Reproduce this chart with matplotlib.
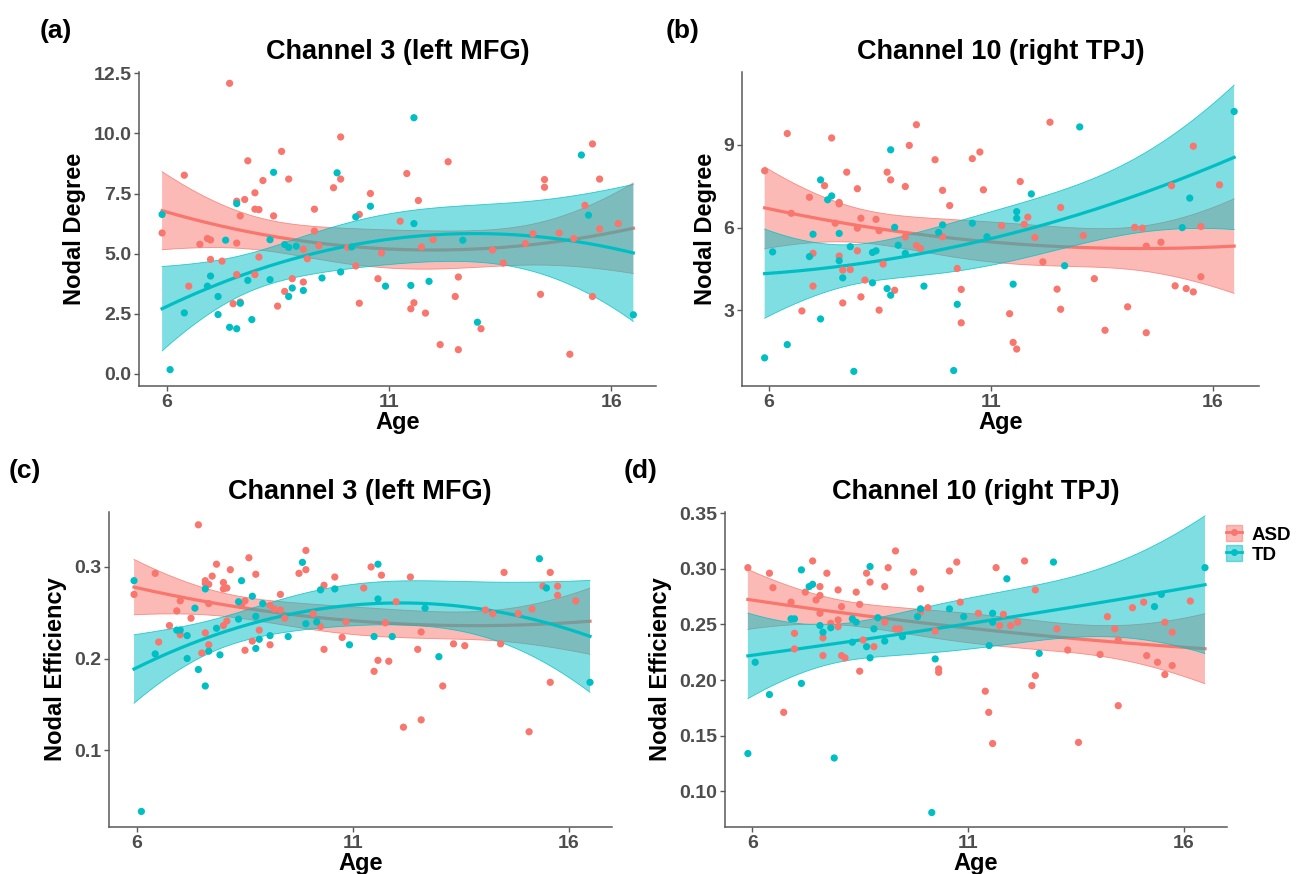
import numpy as np
import matplotlib
matplotlib.use("Agg")
import matplotlib.pyplot as plt
from matplotlib.patches import Patch
from matplotlib.lines import Line2D

plt.rcParams['font.family'] = ['Liberation Sans', 'DejaVu Sans']
plt.rcParams['font.weight'] = 'bold'

# ---- data ----
# (a) nodal degree, channel 3
deg3_asd_age = [5.89, 6.39, 6.49, 6.74, 6.91, 6.98, 6.98, 7.24, 7.41, 7.49, 7.57, 7.57, 7.57, 7.65, 7.65,
                7.75, 7.82, 7.98, 7.98, 7.98, 8.07, 8.07, 8.16, 8.40, 8.49, 8.58, 8.65, 8.74, 8.82, 9.07,
                9.07, 9.16, 9.32, 9.32, 9.42, 9.75, 9.91, 9.91, 10.07, 10.25, 10.33, 10.33, 10.58, 10.75,
                10.83, 11.25, 11.40, 11.49, 11.56, 11.66, 11.73, 11.82, 11.99, 12.15, 12.33, 12.49, 12.56,
                12.56, 13.07, 13.33, 13.57, 14.07, 14.24, 14.41, 14.50, 14.50, 14.83, 15.07, 15.16, 15.41,
                15.58, 15.58, 15.74, 15.74, 16.16]
deg3_asd = [5.86, 8.26, 3.65, 5.39, 5.63, 5.57, 4.76, 4.69, 12.08, 2.92, 7.18, 5.44, 4.13, 6.57, 2.99,
            7.25, 8.86, 7.53, 6.85, 4.13, 6.83, 4.86, 8.04, 6.57, 2.82, 9.25, 3.43, 8.10, 3.96, 3.82,
            5.18, 4.79, 6.85, 5.94, 5.33, 7.74, 9.85, 8.10, 5.26, 4.49, 2.94, 6.63, 7.50, 3.96,
            5.03, 6.35, 8.33, 2.71, 2.96, 7.21, 5.28, 2.53, 5.58, 1.22, 8.82, 3.22, 4.03,
            1.01, 1.88, 5.15, 4.61, 5.42, 5.83, 3.31, 8.08, 7.76, 5.86, 0.82, 5.63, 7.01,
            9.56, 3.22, 6.03, 8.10, 6.25]
deg3_td_age = [5.89, 6.07, 6.39, 6.91, 6.98, 7.15, 7.15, 7.32, 7.41, 7.57, 7.57, 7.65, 7.82, 7.91, 8.32,
               8.32, 8.40, 8.65, 8.74, 8.74, 8.82, 8.91, 9.07, 9.49, 9.83, 9.91, 10.16, 10.25, 10.58,
               10.92, 11.49, 11.56, 11.56, 11.90, 12.66, 12.99, 15.33, 15.49, 16.50]
deg3_td = [6.63, 0.18, 2.54, 3.65, 4.07, 3.22, 2.47, 5.56, 1.94, 1.88, 7.08, 2.94, 3.89, 2.26, 3.92,
           5.58, 8.38, 5.38, 5.26, 3.22, 3.57, 5.31, 3.47, 3.99, 8.36, 4.24, 5.28, 6.53, 6.97,
           3.65, 3.68, 6.25, 10.65, 3.85, 5.56, 2.15, 9.10, 6.60, 2.46]

# (b) nodal degree, channel 10
deg10_asd_age = [5.90, 6.41, 6.50, 6.74, 6.91, 6.99, 6.99, 7.25, 7.41, 7.49, 7.58, 7.58, 7.58, 7.66, 7.66,
                 7.75, 7.83, 7.99, 7.99, 7.99, 8.07, 8.07, 8.16, 8.41, 8.48, 8.48, 8.57, 8.66, 8.74, 8.83,
                 9.07, 9.07, 9.16, 9.32, 9.32, 9.41, 9.74, 9.91, 9.91, 10.07, 10.24, 10.33, 10.33, 10.58,
                 10.75, 10.83, 11.24, 11.42, 11.50, 11.58, 11.66, 11.75, 11.83, 11.99, 12.17, 12.33, 12.49,
                 12.57, 12.57, 13.08, 13.33, 13.57, 14.08, 14.24, 14.41, 14.50, 14.50, 14.83, 15.07, 15.15,
                 15.40, 15.56, 15.56, 15.73, 15.73, 16.15]
deg10_asd = [8.06, 9.41, 6.52, 2.98, 7.10, 5.07, 3.88, 7.52, 9.25, 6.16, 6.91, 6.86, 4.97, 4.46, 3.27,
             8.01, 4.48, 7.41, 5.98, 5.16, 6.34, 3.49, 4.10, 6.30, 5.89, 3.01, 4.68, 8.01, 7.73, 3.73,
             7.49, 5.67, 8.98, 9.73, 5.35, 5.25, 8.46, 7.35, 5.67, 6.80, 4.52, 3.76, 2.55, 8.50,
             8.74, 7.37, 6.07, 2.88, 1.84, 1.60, 7.67, 6.12, 6.38, 5.64, 4.76, 9.82, 3.77,
             6.73, 3.04, 5.71, 4.15, 2.28, 3.13, 6.01, 5.98, 5.33, 2.19, 5.47, 7.52, 3.89,
             3.79, 8.95, 3.67, 6.04, 4.22, 7.55]
deg10_td_age = [5.90, 6.08, 6.41, 6.91, 6.99, 7.16, 7.16, 7.32, 7.41, 7.58, 7.58, 7.66, 7.83, 7.91, 8.33,
                8.33, 8.41, 8.66, 8.74, 8.74, 8.83, 8.91, 9.07, 9.49, 9.82, 9.91, 10.16, 10.24, 10.58,
                10.91, 11.50, 11.58, 11.58, 11.91, 12.66, 13.00, 15.31, 15.48, 16.48]
deg10_td = [1.28, 5.12, 1.76, 4.95, 5.76, 7.73, 2.69, 7.01, 7.15, 5.79, 4.80, 4.18, 5.31, 0.79, 4.00,
            5.10, 5.16, 3.79, 8.82, 3.55, 6.01, 5.36, 5.07, 3.88, 5.83, 6.10, 0.82, 3.22, 6.16,
            5.67, 3.95, 6.58, 6.34, 7.22, 4.62, 9.65, 6.00, 7.07, 10.21]

# (c) nodal efficiency, channel 3
eff3_asd_age = [5.93, 6.42, 6.50, 6.75, 6.92, 7.00, 7.00, 7.25, 7.42, 7.50, 7.58, 7.58, 7.58, 7.66, 7.66,
                7.66, 7.74, 7.84, 8.00, 8.00, 8.00, 8.08, 8.08, 8.16, 8.42, 8.50, 8.50, 8.59, 8.67, 8.75,
                8.83, 9.08, 9.08, 9.18, 9.32, 9.32, 9.42, 9.75, 9.91, 9.91, 10.08, 10.25, 10.33, 10.33,
                10.58, 10.75, 10.84, 11.25, 11.42, 11.49, 11.58, 11.66, 11.75, 11.83, 12.00, 12.17, 12.33,
                12.50, 12.58, 12.58, 13.08, 13.33, 13.59, 14.07, 14.24, 14.42, 14.50, 14.83, 15.08, 15.15,
                15.40, 15.57, 15.57, 15.74, 15.74, 16.16]
eff3_asd = [0.270, 0.293, 0.218, 0.236, 0.252, 0.263, 0.226, 0.244, 0.346, 0.206, 0.285, 0.282, 0.228, 0.281, 0.260,
            0.215, 0.290, 0.303, 0.283, 0.276, 0.236, 0.277, 0.241, 0.297, 0.258, 0.209, 0.263, 0.310, 0.219, 0.292,
            0.231, 0.258, 0.215, 0.254, 0.270, 0.253, 0.244, 0.293, 0.318, 0.297, 0.249, 0.235, 0.280, 0.210,
            0.289, 0.223, 0.240, 0.277, 0.300, 0.186, 0.198, 0.291, 0.239, 0.197, 0.262, 0.125, 0.289,
            0.210, 0.229, 0.133, 0.170, 0.216, 0.214, 0.253, 0.249, 0.216, 0.294, 0.249, 0.120, 0.254,
            0.279, 0.294, 0.174, 0.279, 0.269, 0.263]
eff3_td_age = [5.93, 6.10, 6.42, 6.92, 7.00, 7.16, 7.16, 7.34, 7.42, 7.58, 7.58, 7.66, 7.84, 7.92, 8.35,
               8.35, 8.42, 8.67, 8.75, 8.75, 8.83, 8.91, 9.08, 9.50, 9.83, 9.91, 10.16, 10.25, 10.58,
               10.92, 11.49, 11.58, 11.58, 11.91, 12.67, 12.99, 15.32, 15.48, 16.49]
eff3_td = [0.285, 0.033, 0.205, 0.231, 0.231, 0.225, 0.200, 0.255, 0.188, 0.276, 0.170, 0.208, 0.233, 0.204, 0.243,
           0.262, 0.285, 0.268, 0.246, 0.211, 0.221, 0.260, 0.225, 0.224, 0.305, 0.238, 0.240, 0.275, 0.276,
           0.215, 0.224, 0.265, 0.303, 0.224, 0.255, 0.202, 0.309, 0.277, 0.174]

# (d) nodal efficiency, channel 10
eff10_asd_age = [5.90, 6.40, 6.48, 6.73, 6.90, 6.98, 6.98, 7.23, 7.40, 7.48, 7.57, 7.57, 7.57, 7.64, 7.64,
                 7.73, 7.82, 7.99, 7.99, 7.99, 8.07, 8.07, 8.15, 8.41, 8.49, 8.49, 8.57, 8.65, 8.73, 8.82,
                 9.07, 9.07, 9.15, 9.32, 9.32, 9.41, 9.74, 9.90, 9.90, 10.07, 10.24, 10.32, 10.32, 10.57,
                 10.74, 10.82, 11.24, 11.40, 11.48, 11.57, 11.65, 11.73, 11.82, 11.99, 12.15, 12.31, 12.48,
                 12.56, 12.56, 13.06, 13.31, 13.56, 14.06, 14.23, 14.40, 14.48, 14.48, 14.81, 15.07, 15.14,
                 15.39, 15.56, 15.56, 15.73, 15.73, 16.15]
eff10_asd = [0.301, 0.296, 0.283, 0.171, 0.270, 0.242, 0.228, 0.279, 0.307, 0.272, 0.284, 0.276, 0.260, 0.238, 0.222,
             0.296, 0.251, 0.281, 0.254, 0.248, 0.266, 0.222, 0.220, 0.279, 0.208, 0.268, 0.236, 0.296, 0.288, 0.230,
             0.284, 0.252, 0.301, 0.316, 0.246, 0.246, 0.297, 0.282, 0.261, 0.265, 0.244, 0.210, 0.207, 0.298,
             0.306, 0.270, 0.260, 0.190, 0.171, 0.143, 0.301, 0.249, 0.259, 0.249, 0.252, 0.307, 0.195,
             0.281, 0.204, 0.246, 0.227, 0.144, 0.223, 0.257, 0.246, 0.236, 0.177, 0.265, 0.270, 0.222,
             0.216, 0.252, 0.205, 0.243, 0.213, 0.271]
eff10_td_age = [5.90, 6.07, 6.40, 6.90, 6.98, 7.14, 7.14, 7.32, 7.40, 7.57, 7.64, 7.82, 7.90, 8.32, 8.32,
                8.41, 8.65, 8.73, 8.73, 8.82, 8.91, 9.07, 9.48, 9.83, 9.90, 10.16, 10.24, 10.57, 10.90,
                11.49, 11.57, 11.57, 11.90, 12.65, 12.98, 15.32, 15.48, 16.49]
eff10_td = [0.134, 0.216, 0.187, 0.255, 0.255, 0.299, 0.197, 0.284, 0.286, 0.249, 0.243, 0.247, 0.130, 0.255, 0.234,
            0.252, 0.230, 0.302, 0.220, 0.246, 0.256, 0.235, 0.239, 0.257, 0.264, 0.081, 0.219, 0.264, 0.257,
            0.231, 0.260, 0.252, 0.291, 0.224, 0.306, 0.266, 0.277, 0.301]

groups = ['ASD', 'TD']
colors = {'ASD': '#F8766D', 'TD': '#00BFC4'}

panels = [
    dict(letter='(a)', title='Channel 3 (left MFG)', ylabel='Nodal Degree',
         data={'ASD': (deg3_asd_age, deg3_asd), 'TD': (deg3_td_age, deg3_td)},
         yticks=[0, 2.5, 5, 7.5, 10, 12.5], yfmt='{:.1f}', ylim=(-0.5, 12.55), xlim=(5.37, 17.01)),
    dict(letter='(b)', title='Channel 10 (right TPJ)', ylabel='Nodal Degree',
         data={'ASD': (deg10_asd_age, deg10_asd), 'TD': (deg10_td_age, deg10_td)},
         yticks=[3, 6, 9], yfmt='{:.0f}', ylim=(0.26, 11.64), xlim=(5.39, 17.04)),
    dict(letter='(c)', title='Channel 3 (left MFG)', ylabel='Nodal Efficiency',
         data={'ASD': (eff3_asd_age, eff3_asd), 'TD': (eff3_td_age, eff3_td)},
         yticks=[0.1, 0.2, 0.3], yfmt='{:.1f}', ylim=(0.016, 0.36), xlim=(5.35, 17.0)),
    dict(letter='(d)', title='Channel 10 (right TPJ)', ylabel='Nodal Efficiency',
         data={'ASD': (eff10_asd_age, eff10_asd), 'TD': (eff10_td_age, eff10_td)},
         yticks=[0.10, 0.15, 0.20, 0.25, 0.30, 0.35], yfmt='{:.2f}', ylim=(0.068, 0.351), xlim=(5.37, 17.0)),
]

W, H = 1310, 874
# axes boxes in pixels: left, top, right, bottom
boxes = [(139, 72, 656, 386), (742, 72, 1259, 386), (109, 512, 612, 827), (725, 512, 1227, 827)]
title_pos = [(398, 52), (1001, 52), (360, 492), (976, 492)]
letter_pos = [(56, 31), (683, 31), (25, 471), (641, 471)]


def quad_fit(x, y, xs):
    # y ~ poly(x, 2) with 95% confidence band, like geom_smooth(method='lm')
    X = np.vander(x, 3)
    beta = np.linalg.lstsq(X, y, rcond=None)[0]
    resid = y - X @ beta
    s2 = resid @ resid / (len(x) - 3)
    xtx_inv = np.linalg.inv(X.T @ X)
    Xs = np.vander(xs, 3)
    fit = Xs @ beta
    se = np.sqrt(np.einsum('ij,jk,ik->i', Xs, xtx_inv, Xs) * s2)
    return fit, 1.99 * se


fig = plt.figure(figsize=(W / 100, H / 100), dpi=100)
axis_col = '#595959'

for p, (l, t, r, b), tp, lp in zip(panels, boxes, title_pos, letter_pos):
    ax = fig.add_axes([l / W, 1 - b / H, (r - l) / W, (b - t) / H])
    all_x = np.concatenate([np.asarray(p['data'][g][0]) for g in groups])
    xs = np.linspace(all_x.min(), all_x.max(), 200)
    for i, g in enumerate(groups):
        x = np.asarray(p['data'][g][0])
        y = np.asarray(p['data'][g][1])
        fit, half = quad_fit(x, y, xs)
        ax.fill_between(xs, fit - half, fit + half, facecolor=colors[g], alpha=0.5,
                        edgecolor='none', zorder=2 + 2 * i)
        ax.plot(xs, fit - half, color=colors[g], lw=0.6, alpha=0.8, zorder=2 + 2 * i)
        ax.plot(xs, fit + half, color=colors[g], lw=0.6, alpha=0.8, zorder=2 + 2 * i)
        ax.plot(xs, fit, color=colors[g], lw=2.3, zorder=3 + 2 * i)
    for g in groups:
        x, y = p['data'][g]
        ax.scatter(x, y, s=27, color=colors[g], edgecolors='none', zorder=10)

    ax.set_xlim(p['xlim'])
    ax.set_ylim(p['ylim'])
    ax.set_xticks([6, 11, 16])
    ax.set_yticks(p['yticks'])
    ax.set_yticklabels([p['yfmt'].format(v) for v in p['yticks']])
    for s in ['top', 'right']:
        ax.spines[s].set_visible(False)
    for s in ['left', 'bottom']:
        ax.spines[s].set_color(axis_col)
        ax.spines[s].set_linewidth(1.1)
    ax.tick_params(colors=axis_col, length=3.5, width=1.0, labelcolor='#4D4D4D', pad=2)
    for lab in ax.get_xticklabels() + ax.get_yticklabels():
        lab.set_fontweight('bold')
        lab.set_fontsize(14)
    ax.set_xlabel('Age', fontsize=17, fontweight='bold', labelpad=0)
    ax.set_ylabel(p['ylabel'], fontsize=17, fontweight='bold', labelpad=5)

    fig.text(tp[0] / W, 1 - tp[1] / H, p['title'], ha='center', va='center',
             fontsize=19.5, fontweight='bold')
    fig.text(lp[0] / W, 1 - lp[1] / H, p['letter'], ha='center', va='center',
             fontsize=19, fontweight='bold')

# legend
handles = [(Patch(facecolor=colors[g], alpha=0.5, edgecolor=colors[g]),
            Line2D([], [], color=colors[g], lw=2, marker='o', markersize=4)) for g in groups]
fig.legend(handles, groups, loc='upper left', bbox_to_anchor=(1226 / W, 1 - 525 / H),
           frameon=False, handlelength=0.85, handleheight=0.95,
           labelspacing=0.08, handletextpad=0.5, borderpad=0, borderaxespad=0,
           prop={'weight': 'bold', 'size': 13.5})

fig.savefig('out.png', dpi=100)
